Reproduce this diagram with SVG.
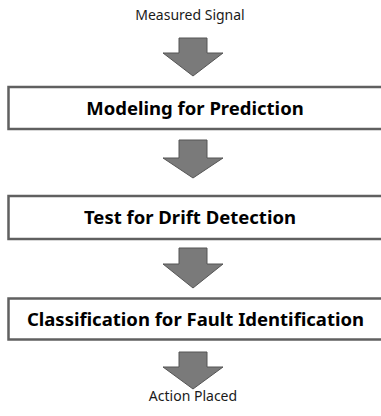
<svg xmlns="http://www.w3.org/2000/svg" width="381" height="416" viewBox="0 0 381 416">
<style>
.box{fill:#ffffff;stroke:#606060;stroke-width:2.5}
.arr{fill:#7a7a7a;stroke:#555555;stroke-width:1}
.lbl{font-family:"Noto Sans","Open Sans",sans-serif;font-size:14px;fill:#1a1a1a;text-anchor:middle}
.ttl{font-family:"Noto Sans","Open Sans",sans-serif;font-size:18.5px;font-weight:bold;fill:#000000;text-anchor:middle}
</style>
<rect width="381" height="416" fill="#ffffff"/>
<g id="connectors">
<polygon class="arr" points="179,38 207,38 207,53 223,53 193,76 163,53 179,53"/>
<polygon class="arr" points="179,140 207,140 207,158 223,158 193,178 163,158 179,158"/>
<polygon class="arr" points="179,248 207,248 207,264 223,264 193,288 163,264 179,264"/>
<polygon class="arr" points="179,352 207,352 207,367 223,367 193,389 163,367 179,367"/>
</g>
<g id="input"><text class="lbl" x="190" y="20">Measured Signal</text></g>
<g id="modeling">
<rect class="box" x="8.5" y="87" width="380" height="42"/>
<text class="ttl" x="195" y="114.5">Modeling for Prediction</text>
</g>
<g id="test">
<rect class="box" x="8.5" y="196" width="380" height="43"/>
<text class="ttl" x="190" y="224">Test for Drift Detection</text>
</g>
<g id="classification">
<rect class="box" x="8.5" y="298.5" width="380" height="41"/>
<text class="ttl" x="195.5" y="325.5">Classification for Fault Identification</text>
</g>
<g id="output"><text class="lbl" x="193" y="401">Action Placed</text></g>
</svg>
